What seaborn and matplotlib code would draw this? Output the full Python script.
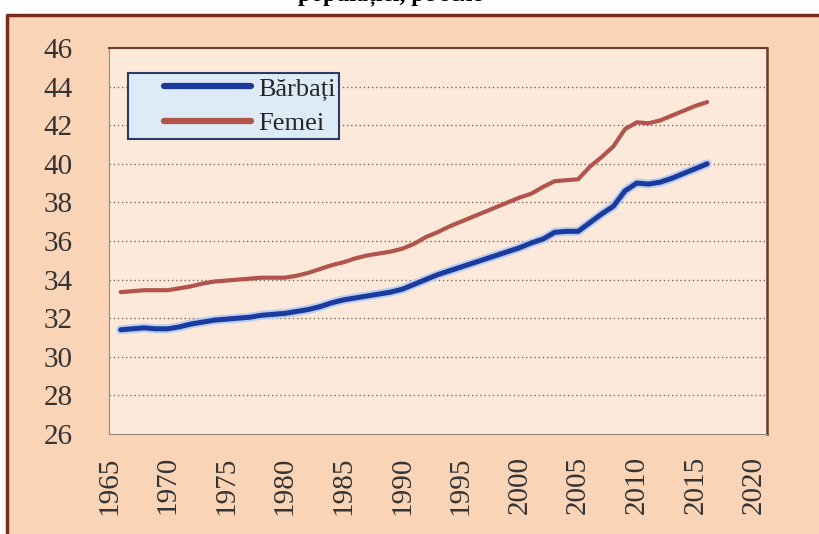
import numpy as np
import pandas as pd
import seaborn as sns
import matplotlib.pyplot as plt
import matplotlib.patheffects as pe
from matplotlib.patches import Rectangle
from matplotlib.lines import Line2D
from matplotlib.legend_handler import HandlerLine2D

# =========================
# DATA
# =========================
years = list(range(1966, 2017))

barbati = [31.40, 31.45, 31.50, 31.45, 31.45, 31.55, 31.70, 31.80, 31.90, 31.95,
           32.00, 32.05, 32.15, 32.20, 32.25, 32.35, 32.45, 32.60, 32.80, 32.95,
           33.05, 33.15, 33.25, 33.35, 33.50, 33.75, 34.00, 34.25, 34.45, 34.65,
           34.85, 35.05, 35.25, 35.45, 35.65, 35.90, 36.10, 36.45, 36.50, 36.50,
           36.95, 37.40, 37.80, 38.60, 39.00, 38.95, 39.05, 39.25, 39.50, 39.75,
           40.00]

femei = [33.35, 33.40, 33.45, 33.45, 33.45, 33.55, 33.65, 33.80, 33.90, 33.95,
         34.00, 34.05, 34.10, 34.10, 34.10, 34.20, 34.35, 34.55, 34.75, 34.90,
         35.10, 35.25, 35.35, 35.45, 35.60, 35.85, 36.20, 36.45, 36.75, 37.00,
         37.25, 37.50, 37.75, 38.00, 38.25, 38.45, 38.80, 39.10, 39.15, 39.20,
         39.85, 40.35, 40.90, 41.80, 42.15, 42.10, 42.25, 42.50, 42.75, 43.00,
         43.20]

series_names = ["Bărbați", "Femei"]
series_colors = ["#1C3A9C", "#B0544C"]

y_ticks = list(range(26, 47, 2))
x_ticks = list(range(1965, 2021, 5))

# =========================
# Long form table
# =========================
df = pd.DataFrame({
    "An": years * 2,
    "Varsta": barbati + femei,
    "Sex": [series_names[0]] * len(years) + [series_names[1]] * len(years),
})

# =========================
# STYLE
# =========================
sns.set_style("white")
plt.rcParams["font.family"] = ["Liberation Serif", "DejaVu Serif"]

fig = plt.figure(figsize=(8.2, 5.34), dpi=100)
fig.patch.set_facecolor("white")

# outer frame: peach background, brown edge on top and left only
top_y = 1 - 15 / 534
left_x = 7 / 820
fig.patches.append(Rectangle((left_x, 0), 1 - left_x, top_y,
                             transform=fig.transFigure, facecolor="#F9D4B6",
                             edgecolor="none", zorder=-5))
fig.lines.append(Line2D([left_x, left_x, 1], [0, top_y, top_y],
                        transform=fig.transFigure, color="#7A2A1E",
                        linewidth=2.5, zorder=-3))

# cropped title (only the descenders are visible)
fig.text(298 / 820, 1.0, "populației, pe sexe", fontsize=17,
         fontweight="bold", ha="left", va="baseline", color="black")

ax = fig.add_axes([109 / 820, 1 - 434 / 534, 658 / 820, 386 / 534])
ax.set_facecolor("#FDE9DA")

sns.lineplot(data=df, x="An", y="Varsta", hue="Sex", palette=series_colors,
             ax=ax, legend=True)

lines = ax.get_lines()
lines[0].set_linewidth(3.6)
lines[0].set_path_effects([pe.Stroke(linewidth=6.5, foreground="#B9CDF2"),
                           pe.Normal()])
lines[1].set_linewidth(3.0)
for ln in lines:
    ln.set_solid_capstyle("round")

ax.set_xlim(1965, 2021.1)
ax.set_ylim(26, 46)
ax.set_xticks(x_ticks)
ax.set_yticks(y_ticks)
ax.set_xticklabels([str(x) for x in x_ticks], rotation=90)
ax.tick_params(axis="both", labelcolor="#333333",
               color="#8E7B6B", direction="out", length=6, width=1)
ax.tick_params(axis="x", labelsize=21, pad=10)
ax.tick_params(axis="y", labelsize=21, length=20, pad=6)
ax.set_xlabel("")
ax.set_ylabel("")

for y in y_ticks[1:-1]:
    ax.axhline(y, color="#7D6A5A", linewidth=1.0, linestyle=(0, (1, 2)), zorder=1)

ax.spines["left"].set_color("#9C8676")
ax.spines["bottom"].set_color("#9C8676")
ax.spines["top"].set_color("#6B3A2A")
ax.spines["right"].set_color("#6B3A2A")
ax.spines["top"].set_linewidth(1.5)
ax.spines["right"].set_linewidth(1.8)

handles, labels = ax.get_legend_handles_labels()
leg = ax.legend(handles, labels, loc="upper left", bbox_to_anchor=(0.029, 0.935),
                borderaxespad=0, fontsize=19, handlelength=4.5, handletextpad=0.27,
                frameon=True, fancybox=False, labelspacing=0.42,
                borderpad=0.15, handler_map={Line2D: HandlerLine2D(xpad=1.2)})
leg.get_frame().set_facecolor("#DDEBF7")
leg.get_frame().set_edgecolor("#2B3A67")
leg.get_frame().set_linewidth(1.5)
leg.get_frame().set_alpha(1)
for h in leg.get_lines():
    h.set_linewidth(4.5)
    h.set_solid_capstyle("round")

fig.savefig("out.png", dpi=100, facecolor=fig.get_facecolor())
